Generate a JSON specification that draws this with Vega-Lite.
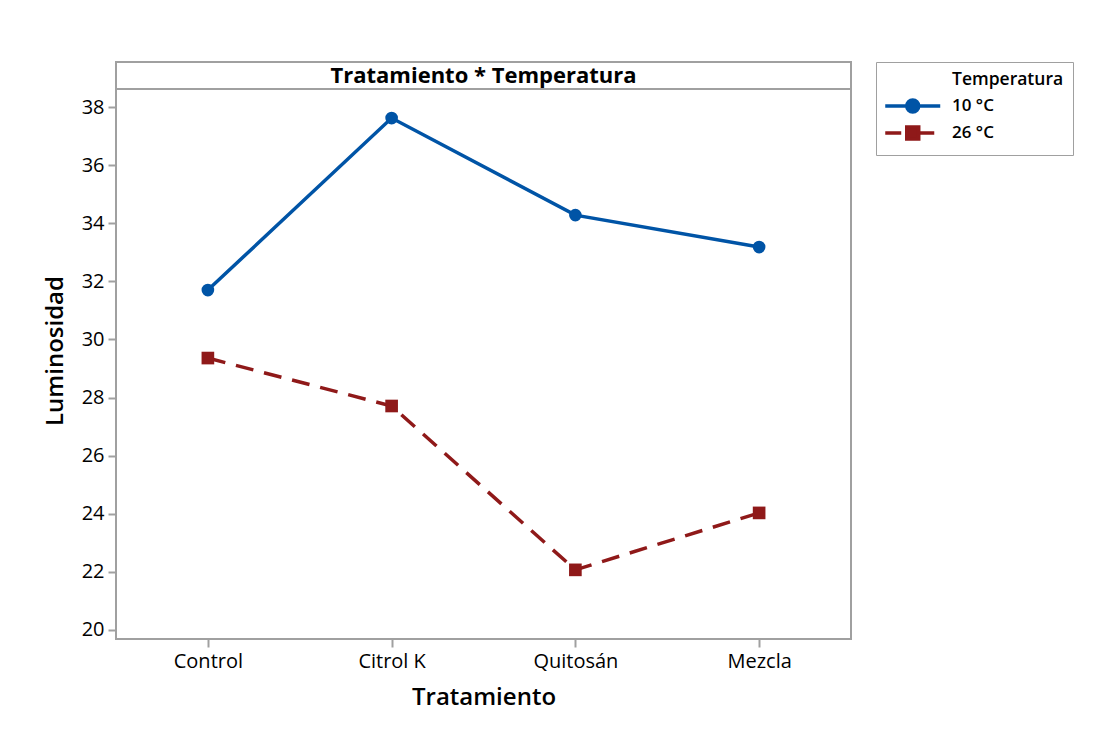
{
  "$schema": "https://vega.github.io/schema/vega-lite/v6.json",
  "autosize": "none",
  "width": 735,
  "height": 577,
  "padding": {"left": 116, "top": 62, "right": 242, "bottom": 97},
  "background": "white",
  "config": {
    "font": "Open Sans",
    "view": {"stroke": "#a0a0a0", "strokeWidth": 2},
    "axis": {
      "domainColor": "#a0a0a0", "domainWidth": 2, "tickColor": "#a0a0a0", "tickWidth": 2,
      "labelFont": "Open Sans", "labelFontSize": 20, "labelColor": "#000",
      "titleFont": "Open Sans", "titleFontSize": 24, "titleFontWeight": 600, "titleColor": "#000",
      "grid": false
    }
  },
  "title": {
    "text": "Tratamiento * Temperatura",
    "font": "Open Sans", "fontSize": 22, "fontWeight": "bold", "color": "#000",
    "anchor": "middle", "frame": "group", "baseline": "middle", "offset": -36
  },
  "datasets": {
    "d": [
      {"Tratamiento": "Control", "Temperatura": "10 °C", "Luminosidad": 31.70},
      {"Tratamiento": "Citrol K", "Temperatura": "10 °C", "Luminosidad": 37.62},
      {"Tratamiento": "Quitosán", "Temperatura": "10 °C", "Luminosidad": 34.28},
      {"Tratamiento": "Mezcla", "Temperatura": "10 °C", "Luminosidad": 33.18},
      {"Tratamiento": "Control", "Temperatura": "26 °C", "Luminosidad": 29.36},
      {"Tratamiento": "Citrol K", "Temperatura": "26 °C", "Luminosidad": 27.71},
      {"Tratamiento": "Quitosán", "Temperatura": "26 °C", "Luminosidad": 22.07},
      {"Tratamiento": "Mezcla", "Temperatura": "26 °C", "Luminosidad": 24.03}
    ],
    "header": [{"y": 38.62}]
  },
  "encoding": {
    "color": {
      "field": "Temperatura", "type": "nominal",
      "scale": {"domain": ["10 °C", "26 °C"], "range": ["#0054A6", "#8F1919"]},
      "legend": {
        "title": "Temperatura", "orient": "right", "offset": 25,
        "strokeColor": "#a0a0a0", "padding": 9, "cornerRadius": 0,
        "titleFont": "Open Sans", "titleFontSize": 17.5, "titleFontWeight": 600, "titleColor": "#000", "titlePadding": 9,
        "labelFont": "Open Sans", "labelFontSize": 17, "labelColor": "#000", "labelFontWeight": 600,
        "symbolSize": 169, "symbolStrokeWidth": 3.5, "rowPadding": 0, "labelOffset": 50,
        "encode": {"title": {"update": {"dx": {"value": 67}}}}
      }
    }
  },
  "layer": [
    {
      "data": {"name": "d"},
      "transform": [{"filter": "datum.Temperatura === '10 °C'"}],
      "mark": {"type": "line", "strokeWidth": 3.5},
      "encoding": {
        "x": {
          "field": "Tratamiento", "type": "nominal", "sort": ["Control", "Citrol K", "Quitosán", "Mezcla"],
          "scale": {"type": "point", "padding": 0.5},
          "axis": {"labelAngle": 0, "tickSize": 8, "labelPadding": 4, "titlePadding": 14, "domain": false}
        },
        "y": {
          "field": "Luminosidad", "type": "quantitative", "title": "Luminosidad",
          "scale": {"domain": [19.69, 39.55], "nice": false, "zero": false},
          "axis": {"title": "Luminosidad", "values": [20, 22, 24, 26, 28, 30, 32, 34, 36, 38], "tickSize": 8, "labelPadding": 4, "titlePadding": 14, "domain": false}
        }
      }
    },
    {
      "data": {"name": "d"},
      "transform": [{"filter": "datum.Temperatura === '26 °C'"}],
      "mark": {"type": "line", "strokeWidth": 3.5, "strokeDash": [18, 11]},
      "encoding": {
        "x": {"field": "Tratamiento", "type": "nominal", "sort": ["Control", "Citrol K", "Quitosán", "Mezcla"]},
        "y": {"field": "Luminosidad", "type": "quantitative", "title": "Luminosidad"}
      }
    },
    {
      "data": {"name": "d"},
      "transform": [{"filter": "datum.Temperatura === '10 °C'"}],
      "mark": {"type": "point", "filled": true, "size": 160, "opacity": 1, "shape": "circle"},
      "encoding": {
        "x": {"field": "Tratamiento", "type": "nominal", "sort": ["Control", "Citrol K", "Quitosán", "Mezcla"]},
        "y": {"field": "Luminosidad", "type": "quantitative", "title": "Luminosidad"}
      }
    },
    {
      "data": {"name": "d"},
      "transform": [{"filter": "datum.Temperatura === '26 °C'"}],
      "mark": {"type": "point", "filled": true, "size": 160, "opacity": 1, "shape": "square"},
      "encoding": {
        "x": {"field": "Tratamiento", "type": "nominal", "sort": ["Control", "Citrol K", "Quitosán", "Mezcla"]},
        "y": {"field": "Luminosidad", "type": "quantitative", "title": "Luminosidad"}
      }
    },
    {
      "data": {"name": "d"},
      "mark": {"type": "point", "filled": true, "size": 0, "strokeWidth": 3.5, "opacity": 1},
      "encoding": {
        "x": {"field": "Tratamiento", "type": "nominal", "sort": ["Control", "Citrol K", "Quitosán", "Mezcla"]},
        "y": {"field": "Luminosidad", "type": "quantitative", "title": "Luminosidad"},
        "stroke": {
          "field": "Temperatura", "type": "nominal",
          "scale": {"domain": ["10 °C", "26 °C"], "range": ["#0054A6", "#8F1919"]},
          "legend": null
        },
        "shape": {
          "field": "Temperatura", "type": "nominal",
          "scale": {"domain": ["10 °C", "26 °C"], "range": ["M-1.27,0H7.19M2.04,0A0.92,0.92,0,1,1,3.88,0A0.92,0.92,0,1,1,2.04,0Z", "M-1.27,0H1.19M3.88,0H6.27M2.04,-0.92H3.88V0.92H2.04Z"]},
          "legend": null
        }
      }
    },
    {
      "data": {"name": "header"},
      "mark": {"type": "rule", "strokeWidth": 2},
      "encoding": {
        "y": {"field": "y", "type": "quantitative", "title": "Luminosidad"},
        "color": {"value": "#a0a0a0"}
      }
    }
  ]
}
